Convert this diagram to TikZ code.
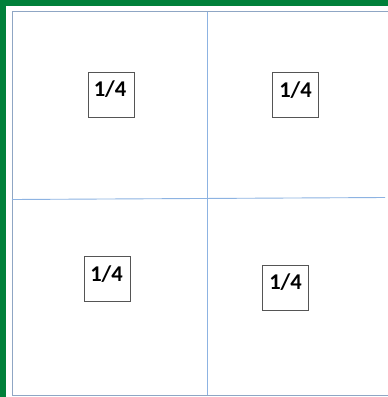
\documentclass[tikz,border=0pt]{standalone}
\usepackage{fontspec}
\setmainfont{Carlito}
\definecolor{frameGreen}{HTML}{00803A}
\definecolor{outerLine}{HTML}{8FA6C4}
\definecolor{divLine}{HTML}{8DB3E2}
\definecolor{boxLine}{HTML}{555555}
\tikzset{
  fracbox/.style={draw=boxLine, line width=1pt, minimum width=46pt, minimum height=45pt, inner sep=0pt},
  fraclabel/.style={font=\fontsize{22.5}{24}\selectfont\bfseries, inner sep=0pt}
}
\begin{document}
\begin{tikzpicture}[x=1pt,y=-1pt]
\useasboundingbox (0,0) rectangle (388,397);
\fill[white] (0,0) rectangle (388,397);
% green frame (top and left)
\fill[frameGreen] (0,0) rectangle (388,6);
\fill[frameGreen] (0,0) rectangle (6,397);
% outer rectangle
\coordinate (tl) at (12,11.5);
\coordinate (tr) at (392,11.5);
\coordinate (bl) at (12,395);
\coordinate (br) at (392,395);
\draw[outerLine, line width=1pt] (tr) -- (tl) -- (bl) -- (br);
% dividers
\coordinate (vt) at (207.5,11.5);
\coordinate (vb) at (207.5,395);
\coordinate (hl) at (12,199.5);
\coordinate (hr) at (385,197.5);
\draw[divLine, line width=0.9pt] (vt) -- (vb);
\draw[divLine, line width=0.9pt] (hl) -- (hr);
% boxes
\node[fracbox] (b1) at (111,94.5) {};
\node[fracbox] (b2) at (295,95.3) {};
\node[fracbox] (b3) at (107,279.2) {};
\node[fracbox] (b4) at (285.5,287.5) {};
\node[fraclabel] (t1) at (110,89) {1/4};
\node[fraclabel] (t2) at (295.5,90) {1/4};
\node[fraclabel] (t3) at (106.5,274.5) {1/4};
\node[fraclabel] (t4) at (285.5,282.5) {1/4};
\end{tikzpicture}
\end{document}
